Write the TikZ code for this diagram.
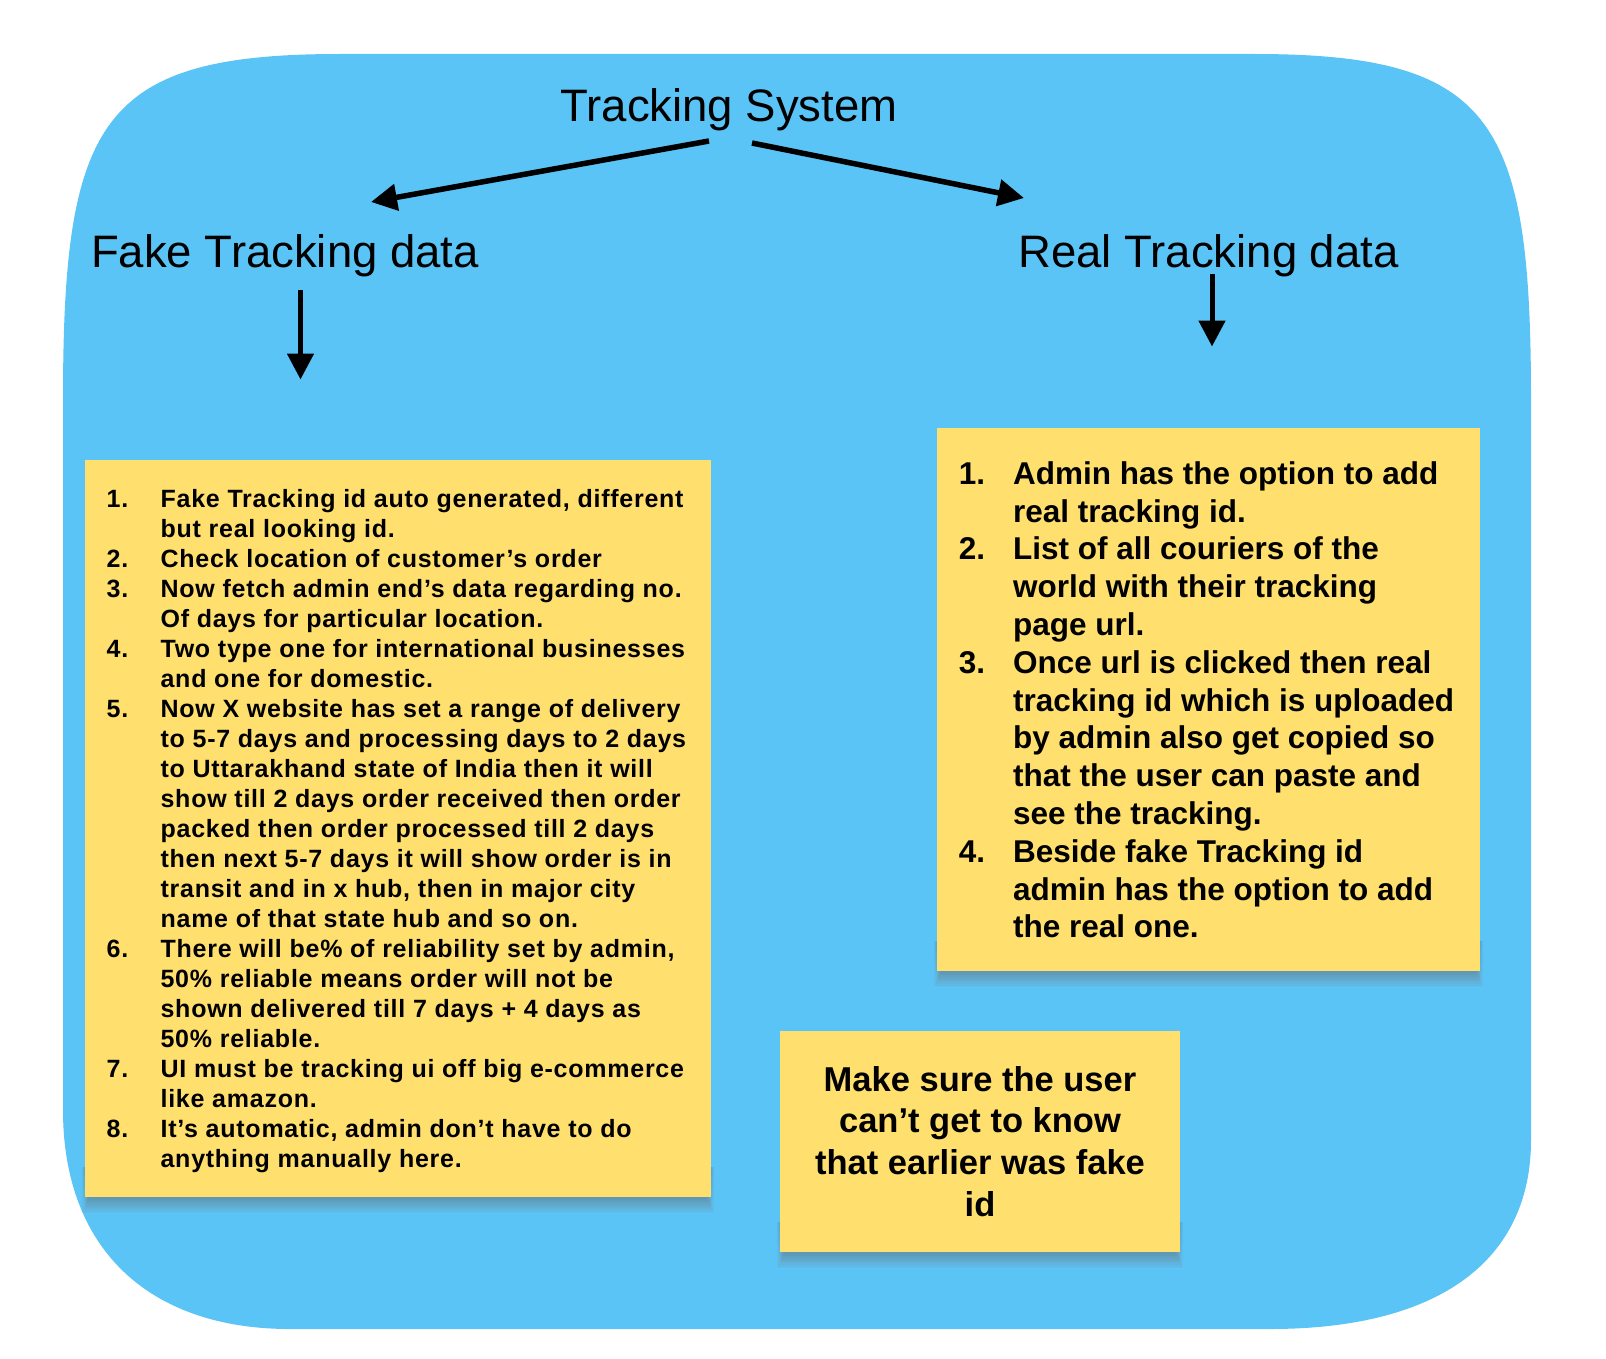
\documentclass[tikz,border=0pt]{standalone}
\usepackage{fontspec}
\setmainfont{Liberation Sans}
\newfontfamily\leftlistfont{Liberation Sans}[LetterSpace=3.0]
\usetikzlibrary{arrows.meta}
\definecolor{bluebg}{HTML}{5BC4F6}
\definecolor{sticky}{HTML}{FFE06E}
\definecolor{shade}{HTML}{12405F}
\newlength\tsnumw
\newcommand\tsnum[1]{\makebox[\tsnumw][l]{#1}}
\newcommand\tscont{\hspace*{\tsnumw}}
\newcommand\stickyshadow[4]{%
  \foreach \k in {1,...,9}{%
    \fill[shade,opacity=0.03] (#1+5-\k*0.9, #4-30) rectangle (#3-5+\k*0.9, #4+1+\k*1.7);
  }}
\begin{document}
\begin{tikzpicture}[x=1pt,y=-1pt,
  bigarrow/.style={line width=5.5pt,-{Triangle[length=26pt,width=26pt]}},
  downarrow/.style={line width=5pt,-{Triangle[length=26pt,width=26pt]}},
  heading/.style={inner sep=0pt,anchor=base,font=\fontsize{45.5}{50}\selectfont},
  stickybox/.style={fill=sticky,inner sep=0pt,anchor=north west},
  listtext/.style={inner sep=0pt,anchor=base west}]
\useasboundingbox (0,0) rectangle (1606,1359);
\fill[white] (0,0) rectangle (1606,1359);
% blue background
\fill[bluebg] (63,400) .. controls (63,120) and (100,54) .. (340,54)
  -- (1254,54) .. controls (1494,54) and (1531,120) .. (1531,400)
  -- (1531,1140) .. controls (1531,1260) and (1440,1329) .. (1270,1329)
  -- (290,1329) .. controls (150,1329) and (63,1250) .. (63,1110) -- cycle;

% headings
\node[heading] (ts) at (729,122) {Tracking System};
\node[heading] (fake) at (285,267) {Fake Tracking data};
\node[heading] (real) at (1208.5,267) {Real Tracking data};

% arrow end points
\coordinate (tsl) at (709,141);
\coordinate (tsr) at (752,143);
\coordinate (faketop) at (371,202);
\coordinate (realtop) at (1024,198);
\coordinate (fakes) at (300.5,290);
\coordinate (fakee) at (300.5,379.5);
\coordinate (reals) at (1212,274);
\coordinate (reale) at (1212,346.5);
\draw[bigarrow] (tsl) -- (faketop);
\draw[bigarrow] (tsr) -- (realtop);
\draw[downarrow] (fakes) -- (fakee);
\draw[downarrow] (reals) -- (reale);

% shadows
\stickyshadow{85}{460}{711}{1197}
\stickyshadow{937}{428}{1480}{971}
\stickyshadow{780}{1031}{1180}{1252}

% sticky notes
\node[stickybox,minimum width=626pt,minimum height=737pt] (fakebox) at (85,460) {};
\node[stickybox,minimum width=543pt,minimum height=543pt] (realbox) at (937,428) {};
\node[stickybox,minimum width=400pt,minimum height=221pt] (notebox) at (780,1031) {};

% left list
\node[listtext,font=\leftlistfont\bfseries\fontsize{25}{30}\selectfont] (fakelist) at (106.5,507)
{\setlength\tsnumw{53.9pt}\parbox[t]{700pt}{%
\tsnum{1.}Fake Tracking id auto generated, different\\
\tscont but real looking id.\\
\tsnum{2.}Check location of customer’s order\\
\tsnum{3.}Now fetch admin end’s data regarding no.\\
\tscont Of days for particular location.\\
\tsnum{4.}Two type one for international businesses\\
\tscont and one for domestic.\\
\tsnum{5.}Now X website has set a range of delivery\\
\tscont to 5-7 days and processing days to 2 days\\
\tscont to Uttarakhand state of India then it will\\
\tscont show till 2 days order received then order\\
\tscont packed then order processed till 2 days\\
\tscont then next 5-7 days it will show order is in\\
\tscont transit and in x hub, then in major city\\
\tscont name of that state hub and so on.\\
\tsnum{6.}There will be\% of reliability set by admin,\\
\tscont 50\% reliable means order will not be\\
\tscont shown delivered till 7 days + 4 days as\\
\tscont 50\% reliable.\\
\tsnum{7.}UI must be tracking ui off big e-commerce\\
\tscont like amazon.\\
\tsnum{8.}It’s automatic, admin don’t have to do\\
\tscont anything manually here.}};

% right list
\node[listtext,font=\bfseries\fontsize{31.5}{37.8}\selectfont] (reallist) at (958.6,484.3)
{\setlength\tsnumw{54.3pt}\parbox[t]{560pt}{%
\tsnum{1.}Admin has the option to add\\
\tscont real tracking id.\\
\tsnum{2.}List of all couriers of the\\
\tscont world with their tracking\\
\tscont page url.\\
\tsnum{3.}Once url is clicked then real\\
\tscont tracking id which is uploaded\\
\tscont by admin also get copied so\\
\tscont that the user can paste and\\
\tscont see the tracking.\\
\tsnum{4.}Beside fake Tracking id\\
\tscont admin has the option to add\\
\tscont the real one.}};

% bottom note
\node[inner sep=0pt,anchor=base,font=\bfseries\fontsize{34.5}{41.9}\selectfont] (note) at (980,1091)
{\parbox[t]{400pt}{\centering Make sure the user\\
can’t get to know\\
that earlier was fake\\
id}};
\end{tikzpicture}
\end{document}
